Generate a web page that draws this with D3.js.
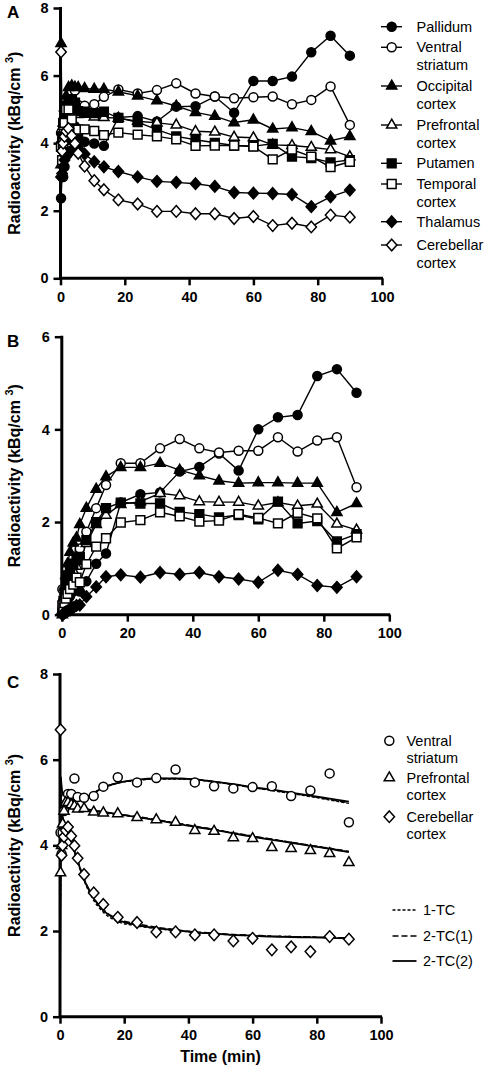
<!DOCTYPE html>
<html><head><meta charset="utf-8">
<script src="https://cdn.jsdelivr.net/npm/d3@7"></script>
<style>
html,body{margin:0;padding:0;background:#fff;}
svg{display:block;font-family:"Liberation Sans",Arial,sans-serif;}
</style></head>
<body><svg id="c" width="488" height="1077"></svg>
<script>
// ---------- data ----------
const times = [0.17,0.5,0.83,1.25,1.75,2.5,3.5,4.5,5.5,7.5,10.5,13.5,18,24,30,36,42,48,54,60,66,72,78,84,90];
const xTicks = [0,20,40,60,80,100];
const yTicksA = [0,2,4,6,8];
const yTicksB = [0,2,4,6];
const yTicksC = [0,2,4,6,8];

const seriesNames = ["Pallidum","Ventral\nstriatum","Occipital\ncortex","Prefrontal\ncortex","Putamen","Temporal\ncortex","Thalamus","Cerebellar\ncortex"];
const seriesShapes = ["circle","circle","triangle","triangle","square","square","diamond","diamond"];
const seriesFilled = [true,false,true,false,true,false,true,false];

const aPallidum   = [2.37,3.05,3.0,3.3,3.7,4.1,4.3,4.5,4.2,4.04,3.99,3.92,4.76,4.80,4.64,5.08,5.09,5.38,4.90,5.84,5.84,5.97,6.69,7.18,6.59];
const aVentral    = [4.3,3.8,4.3,4.8,5.1,5.2,5.2,5.56,5.13,5.11,5.15,5.37,5.59,5.47,5.57,5.77,5.47,5.38,5.33,5.36,5.38,5.15,5.28,5.68,4.54];
const aOccipital  = [6.95,4.1,4.6,5.05,5.4,5.65,5.7,5.66,5.65,5.62,5.60,5.60,5.52,5.40,5.26,5.10,4.91,4.80,4.61,4.69,4.42,4.46,4.35,4.07,4.20];
const aPrefrontal = [3.36,4.0,4.5,4.8,5.0,5.0,4.95,4.92,4.85,4.86,4.78,4.76,4.74,4.65,4.60,4.54,4.35,4.33,4.18,4.16,3.95,3.93,3.88,3.81,3.60];
const aPutamen    = [3.9,4.2,4.6,4.9,5.1,5.3,5.3,5.2,4.95,4.93,4.89,4.93,4.75,4.62,4.40,4.20,4.10,4.01,3.93,3.91,3.98,3.60,3.56,3.43,3.50];
const aTemporal   = [3.9,3.5,4.0,4.6,5.0,5.0,4.7,4.39,4.40,4.41,4.36,4.24,4.31,4.25,4.20,4.11,3.92,3.93,3.93,3.90,3.52,3.81,3.60,3.29,3.45];
const aThalamus   = [3.0,3.1,3.3,3.5,3.6,3.7,3.8,3.85,3.85,3.68,3.45,3.30,3.16,3.00,2.87,2.84,2.80,2.72,2.54,2.52,2.51,2.48,2.12,2.41,2.61];
const aCerebellar = [6.7,3.77,4.0,4.2,4.35,4.43,4.22,3.99,3.70,3.32,2.89,2.62,2.32,2.20,1.98,1.98,1.91,1.91,1.77,1.83,1.56,1.63,1.52,1.87,1.81];

const bPallidum   = [0.05,0.1,0.2,0.25,0.3,0.4,0.5,0.55,0.5,0.72,1.10,1.32,2.42,2.60,2.64,3.09,3.19,3.48,3.11,4.00,4.26,4.31,5.15,5.30,4.79];
const bVentral    = [0.55,0.3,0.45,0.6,0.75,0.9,1.1,1.57,1.43,1.79,2.30,2.80,3.27,3.27,3.59,3.79,3.59,3.50,3.54,3.54,3.83,3.52,3.76,3.83,2.75];
const bOccipital  = [0.1,0.35,0.6,0.85,1.1,1.35,1.55,1.66,1.95,2.30,2.71,2.98,3.18,3.18,3.27,3.12,3.00,2.89,2.84,2.85,2.85,2.84,2.84,2.21,2.40];
const bPrefrontal = [0.0,0.2,0.4,0.6,0.7,0.8,0.95,1.05,1.15,1.54,1.95,2.15,2.38,2.44,2.62,2.57,2.44,2.43,2.43,2.35,2.42,2.35,2.39,1.96,1.83];
const bPutamen    = [0.05,0.3,0.5,0.7,0.85,1.0,1.1,1.2,1.25,1.61,2.0,2.3,2.42,2.40,2.40,2.22,2.17,2.10,2.15,2.06,2.44,1.97,2.02,1.58,1.74];
const bTemporal   = [0.2,0.15,0.25,0.35,0.45,0.55,0.65,0.8,0.7,1.09,1.47,1.65,1.99,2.04,2.21,2.12,2.01,2.03,2.17,2.09,1.97,2.20,2.08,1.43,1.67];
const bThalamus   = [0.0,0.02,0.04,0.06,0.08,0.1,0.15,0.2,0.21,0.39,0.60,0.82,0.86,0.81,0.91,0.87,0.91,0.82,0.77,0.70,0.96,0.87,0.63,0.59,0.82];

const fitTimes = [0,0.25,0.5,1,2,3,5,7.5,10,13.5,18,24,30,36,42,48,54,60,66,72,78,84,90];
const fitVentral2TC2 = [0,5.6,5.35,5.2,5.12,5.08,5.06,5.1,5.2,5.35,5.46,5.53,5.56,5.56,5.54,5.49,5.43,5.36,5.3,5.23,5.16,5.09,5.02];
const fitVentral2TC1 = [0,5.58,5.34,5.2,5.12,5.08,5.06,5.1,5.2,5.35,5.46,5.53,5.56,5.56,5.54,5.49,5.42,5.35,5.29,5.22,5.15,5.07,4.99];
const fitVentral1TC  = [0,5.5,5.3,5.18,5.1,5.07,5.06,5.1,5.2,5.34,5.45,5.52,5.55,5.55,5.53,5.48,5.42,5.35,5.28,5.21,5.14,5.06,4.98];
const fitPref2TC2 = [0,5.0,4.95,4.9,4.88,4.87,4.86,4.85,4.82,4.78,4.73,4.66,4.59,4.51,4.43,4.36,4.28,4.2,4.13,4.06,3.99,3.92,3.84];
const fitPref2TC1 = [0,4.98,4.94,4.9,4.88,4.87,4.86,4.85,4.82,4.78,4.73,4.67,4.6,4.52,4.45,4.37,4.29,4.22,4.14,4.07,4.0,3.93,3.86];
const fitPref1TC  = [0,4.95,4.93,4.89,4.87,4.86,4.85,4.84,4.81,4.77,4.72,4.66,4.59,4.52,4.44,4.37,4.29,4.21,4.14,4.07,4.0,3.93,3.85];
const fitCer2TC2 = [0,4.9,4.8,4.6,4.4,4.2,3.75,3.2,2.82,2.48,2.26,2.14,2.07,2.02,1.97,1.94,1.91,1.89,1.87,1.86,1.85,1.84,1.83];
const fitCer2TC1 = [0,4.85,4.78,4.6,4.4,4.2,3.76,3.22,2.84,2.5,2.28,2.17,2.09,2.03,1.98,1.95,1.92,1.9,1.88,1.87,1.86,1.85,1.84];
const fitCer1TC  = [0,4.8,4.75,4.58,4.38,4.18,3.72,3.18,2.78,2.44,2.22,2.12,2.06,2.01,1.97,1.94,1.91,1.89,1.88,1.87,1.86,1.85,1.84];

const cNames = ["Ventral\nstriatum","Prefrontal\ncortex","Cerebellar\ncortex"];
const cShapes = ["circle","triangle","diamond"];
const fitNames = ["1-TC","2-TC(1)","2-TC(2)"];
const fitDash = ["3,2","6,3",null];

// ---------- helpers ----------
const svg = d3.select("#c");
const FONT = '"Liberation Sans",Arial,sans-serif';

function shapePath(type){
  if(type==="circle"){ return d3.symbol().type(d3.symbolCircle).size(Math.PI*4.5*4.5)(); }
  if(type==="square"){ const s=4.4; return `M${-s},${-s}H${s}V${s}H${-s}Z`; }
  if(type==="triangle"){ return "M0,-5.8L5.1,3.1L-5.1,3.1Z"; }
  if(type==="diamond"){ return "M0,-5.8L5.2,0L0,5.8L-5.2,0Z"; }
}
function drawMarker(g,type,filled,x,y){
  g.append("path").attr("d",shapePath(type)).attr("transform",`translate(${x},${y})`)
   .attr("fill",filled?"#000":"#fff").attr("stroke","#000").attr("stroke-width",1.5);
}

function axes(x,y,yTicks,letter,letterY){
  const g = svg.append("g");
  const xa = d3.axisBottom(x).tickValues(xTicks).tickFormat(d3.format("d")).tickSize(7).tickPadding(6);
  const ya = d3.axisLeft(y).tickValues(yTicks).tickFormat(d3.format("d")).tickSize(7).tickPadding(5);
  const gx = g.append("g").attr("transform",`translate(0,${y(0)})`).call(xa);
  const gy = g.append("g").attr("transform",`translate(${x(0)},0)`).call(ya);
  [gx,gy].forEach(a=>{
    a.select(".domain").remove();
    a.selectAll(".tick line").attr("stroke","#000").attr("stroke-width",2.5);
    a.selectAll(".tick text").attr("font-family",FONT).attr("font-size",14.5).attr("font-weight","bold").attr("fill","#000");
  });
  g.append("line").attr("x1",x(0)).attr("x2",x(100)+1).attr("y1",y(0)).attr("y2",y(0)).attr("stroke","#000").attr("stroke-width",3);
  g.append("line").attr("x1",x(0)).attr("x2",x(0)).attr("y1",y(0)+1.5).attr("y2",y(yTicks[yTicks.length-1])-1).attr("stroke","#000").attr("stroke-width",3);
  // y title
  const cy = (y(0)+y(yTicks[yTicks.length-1]))/2;
  const t = svg.append("text").attr("transform",`translate(20,${cy}) rotate(-90)`).attr("text-anchor","middle")
    .attr("font-family",FONT).attr("font-size",16).attr("font-weight","bold");
  t.append("tspan").text("Radioactivity (kBq/cm ");
  t.append("tspan").attr("dy",-7).attr("font-size",11).text("3");
  t.append("tspan").attr("dy",7).text(")");
  svg.append("text").attr("x",7).attr("y",letterY).attr("font-family",FONT).attr("font-size",17).attr("font-weight","bold").text(letter);
}

function seriesPanel(x,y,arrays,shapes,filled){
  arrays.forEach((vals,i)=>{
    const pts = times.map((t,k)=>[t,vals[k]]);
    svg.append("path").datum(pts).attr("fill","none").attr("stroke","#000").attr("stroke-width",1.4)
      .attr("d",d3.line().x(d=>x(d[0])).y(d=>y(d[1])));
  });
  arrays.forEach((vals,i)=>{
    const g = svg.append("g");
    times.forEach((t,k)=>drawMarker(g,shapes[i],filled[i],x(t),y(vals[k])));
  });
}

function legendText(xp,yp,label,size){
  const lines = label.split("\n");
  const t = svg.append("text").attr("font-family",FONT).attr("font-size",size).attr("fill","#000");
  lines.forEach((l,i)=>t.append("tspan").attr("x",xp).attr("y",yp+i*17.5).text(l));
}

// ---------- Panel A ----------
const xA = d3.scaleLinear().domain([0,100]).range([60.5,382]);
const yA = d3.scaleLinear().domain([0,8]).range([278.3,8]);
axes(xA,yA,yTicksA,"A",18);
const aArrays = [aPallidum,aVentral,aOccipital,aPrefrontal,aPutamen,aTemporal,aThalamus,aCerebellar];
seriesPanel(xA,yA,aArrays,seriesShapes,seriesFilled);
// legend A
const legAY = [26.7,47.3,86,125,163.3,184,221.7,245];
seriesNames.forEach((n,i)=>{
  svg.append("line").attr("x1",381).attr("x2",402).attr("y1",legAY[i]).attr("y2",legAY[i]).attr("stroke","#000").attr("stroke-width",1.4);
  const g = svg.append("g");
  drawMarker(g,seriesShapes[i],seriesFilled[i],391.7,legAY[i]);
  legendText(416.5,legAY[i]+5,n,14.5);
});

// ---------- Panel B ----------
const xB = d3.scaleLinear().domain([0,100]).range([61.8,389.3]);
const yB = d3.scaleLinear().domain([0,6]).range([614.7,336.7]);
axes(xB,yB,yTicksB,"B",347);
const bArrays = [bPallidum,bVentral,bOccipital,bPrefrontal,bPutamen,bTemporal,bThalamus];
seriesPanel(xB,yB,bArrays,seriesShapes.slice(0,7),seriesFilled.slice(0,7));

// ---------- Panel C ----------
const xC = d3.scaleLinear().domain([0,100]).range([60,381]);
const yC = d3.scaleLinear().domain([0,8]).range([1016.7,674]);
axes(xC,yC,yTicksC,"C",688);
const fitSets = [
  [fitVentral1TC,fitVentral2TC1,fitVentral2TC2],
  [fitPref1TC,fitPref2TC1,fitPref2TC2],
  [fitCer1TC,fitCer2TC1,fitCer2TC2]
];
const fitLine = d3.line().x(d=>xC(d[0])).y(d=>yC(d[1])).curve(d3.curveMonotoneX);
[2,1,0].forEach(j=>{
  fitSets.forEach(set=>{
    const pts = fitTimes.map((t,k)=>[t,set[j][k]]);
    svg.append("path").datum(pts).attr("fill","none").attr("stroke","#000")
      .attr("stroke-width",j===2?1.8:1.5).attr("stroke-dasharray",fitDash[j]).attr("d",fitLine);
  });
});
const cArrays = [aVentral,aPrefrontal,aCerebellar];
cArrays.forEach((vals,i)=>{
  const g = svg.append("g");
  times.forEach((t,k)=>drawMarker(g,cShapes[i],false,xC(t),yC(vals[k])));
});
svg.append("text").attr("x",(xC(0)+xC(100))/2).attr("y",1062).attr("text-anchor","middle")
  .attr("font-family",FONT).attr("font-size",16).attr("font-weight","bold").text("Time (min)");
// legend C
const legCY = [740.7,777.7,816.7];
cNames.forEach((n,i)=>{
  const g = svg.append("g");
  drawMarker(g,cShapes[i],false,389.3,legCY[i]);
  legendText(406.5,legCY[i]+5,n,14.5);
});
const legLY = [910,936,961];
fitNames.forEach((n,i)=>{
  svg.append("line").attr("x1",392.5).attr("x2",416.5).attr("y1",legLY[i]).attr("y2",legLY[i])
    .attr("stroke","#000").attr("stroke-width",i===2?1.8:1.5).attr("stroke-dasharray",fitDash[i]);
  legendText(423,legLY[i]+5,n,14.5);
});
</script></body></html>
